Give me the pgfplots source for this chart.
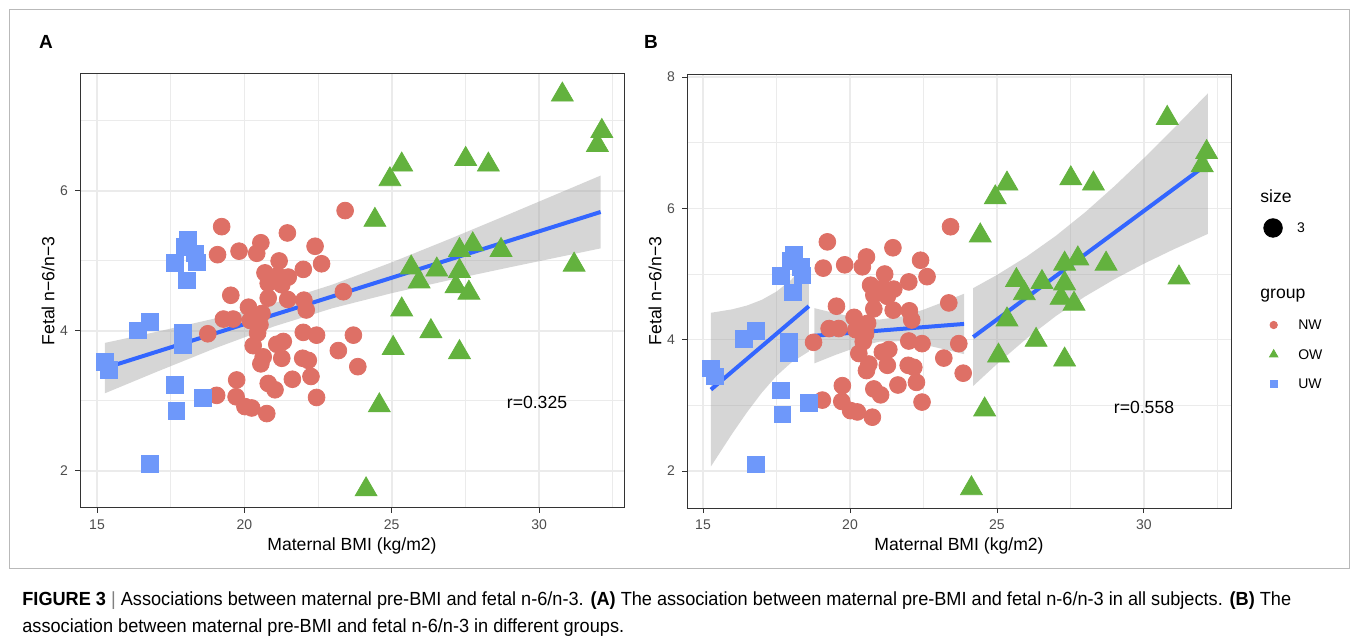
\documentclass[border=0pt]{standalone}
\usepackage{fontspec}
\setmainfont{Liberation Sans}
\newfontfamily\capfont[FakeStretch=0.955]{Liberation Sans}
\usepackage{pgfplots}
\usepackage{pgfplotstable}
\pgfplotsset{compat=1.18}

\definecolor{nwcol}{RGB}{222,112,102}
\definecolor{owcol}{RGB}{99,178,62}
\definecolor{uwcol}{RGB}{110,152,250}
\definecolor{smcol}{HTML}{3366FF}
\definecolor{grid92}{HTML}{EBEBEB}
\definecolor{g20}{HTML}{333333}
\definecolor{g30}{HTML}{4D4D4D}
\definecolor{band}{HTML}{999999}

% data (BMI, n-6/n-3)
\pgfplotstableread{
x y
23.42 5.72
19.23 5.49
21.46 5.40
20.56 5.26
22.40 5.21
19.09 5.09
19.82 5.14
20.42 5.11
21.18 5.00
22.62 4.96
22.00 4.88
20.70 4.83
21.13 4.79
21.49 4.77
20.81 4.68
21.27 4.66
20.95 4.72
19.54 4.51
20.81 4.47
21.47 4.45
22.02 4.44
23.36 4.56
20.14 4.34
22.10 4.30
19.29 4.17
19.62 4.17
20.53 4.09
20.45 3.97
18.76 3.96
22.00 3.98
22.45 3.94
23.70 3.94
20.30 3.79
21.10 3.81
21.32 3.85
23.19 3.72
20.64 3.63
21.27 3.61
21.98 3.61
22.17 3.58
23.85 3.49
20.56 3.53
19.74 3.30
21.63 3.31
22.26 3.35
20.81 3.25
21.04 3.16
19.06 3.08
19.72 3.06
22.45 3.05
20.02 2.92
20.25 2.90
20.76 2.82
20.20 4.15
20.60 4.25
}\nwdata

\pgfplotstableread{
x y
30.79 7.375
32.13 6.855
31.98 6.655
25.34 6.375
24.94 6.165
27.51 6.455
28.28 6.375
24.43 5.585
31.19 4.945
27.30 5.155
27.75 5.235
28.71 5.155
25.66 4.905
26.53 4.875
27.30 4.855
25.93 4.705
27.18 4.635
27.62 4.545
25.34 4.305
26.33 3.995
25.05 3.755
27.30 3.695
24.58 2.935
24.13 1.735
}\owdata

\pgfplotstableread{
x y
18.09 5.30
17.99 5.20
18.33 5.11
17.65 4.97
18.38 4.98
18.05 4.72
16.39 4.01
16.80 4.13
17.92 3.97
17.92 3.80
15.27 3.56
15.40 3.44
17.65 3.23
18.60 3.04
17.70 2.86
16.80 2.10
}\uwdata

\pgfplotsset{
  panel/.style={scale only axis, width=272pt, height=217pt, anchor=north west,
    xtick={15,20,25,30}, minor xtick={17.5,22.5,27.5,32.5},
    grid=both, major grid style={grid92, line width=0.8pt},
    minor grid style={grid92, line width=0.5pt},
    axis line style={g20, line width=0.5pt},
    tick align=outside, tick pos=left, major tick length=2.5pt, minor tick length=0pt,
    tick style={g20, line width=0.5pt},
    ticklabel style={font=\fontsize{7}{8}\selectfont, text=g30},
    /pgf/number format/assume math mode=true},
  nw/.style={only marks, mark=*, mark size=4.2pt, color=nwcol, forget plot},
  ow/.style={only marks, mark=triangle*, mark size=6.3pt, color=owcol, forget plot},
  uw/.style={only marks, mark=square*, mark size=4.15pt, color=uwcol, forget plot},
  rib/.style={draw=none, fill=band, fill opacity=0.4, forget plot},
  fit/.style={smcol, line width=2pt, no marks, forget plot},
  legmark/.style={legend image code/.code={\draw[##1] plot coordinates {(0pt,0pt)};}},
  legsty/.style={legend style={draw=none, fill=none, inner sep=0pt, outer sep=0pt,
    font=\fontsize{7}{8}\selectfont, nodes={inner sep=0pt, text height=5pt, text depth=0pt}},
    legend cell align=left}
}

\begin{document}
\begin{tikzpicture}
\path[use as bounding box] (0,0) rectangle (679pt,-321pt);
\draw[gray!55, line width=0.5pt] (4.5pt,-5pt) rectangle (674.5pt,-284pt);

% ---------- panel A
\begin{axis}[panel, at={(40pt,-37pt)},
  xmin=14.423, xmax=32.883, ymin=1.471, ymax=7.671,
  ytick={2,4,6}, minor ytick={3,5,7},
  legsty, legend style={at={(axis description cs:2.176,0.6452)}, anchor=west, column sep=7.35pt}]
\addlegendimage{legmark, mark=*, mark size=4.65pt, black}
\addlegendentry{3}
\addplot[nw] table {\nwdata};
\addplot[ow] table {\owdata};
\addplot[uw] table {\uwdata};
\addplot[rib] coordinates {(15.27,3.83) (17,3.986) (19,4.178) (21,4.396) (23,4.664) (25,4.980) (27,5.320) (29,5.671) (31,6.026) (32.09,6.22)
  (32.09,5.18) (31,5.084) (29,4.909) (27,4.730) (25,4.540) (23,4.326) (21,4.064) (19,3.752) (17,3.412) (15.27,3.11)} -- cycle;
\addplot[fit] coordinates {(15.27,3.47) (32.09,5.70)};
\end{axis}

% ---------- panel B
\begin{axis}[panel, at={(343.5pt,-37pt)},
  xmin=14.456, xmax=32.96, ymin=1.437, ymax=8.046,
  ytick={2,4,6,8}, minor ytick={3,5,7},
  legsty, legend style={at={(axis description cs:1.0708,0.4332)}, anchor=north west,
    column sep=10.25pt, row sep=9.75pt}]
\addlegendimage{legmark, mark=*, mark size=1.85pt, nwcol}
\addlegendentry{NW}
\addlegendimage{legmark, mark=triangle*, mark size=2.4pt, owcol}
\addlegendentry{OW}
\addlegendimage{legmark, mark=square*, mark size=1.67pt, uwcol}
\addlegendentry{UW}
\addplot[nw] table {\nwdata};
\addplot[ow] table {\owdata};
\addplot[uw] table {\uwdata};
\addplot[rib] coordinates {(15.27,4.41) (16,4.463) (16.5,4.521) (17,4.607) (17.5,4.733) (18,4.911) (18.6,5.20)
  (18.6,3.82) (18,3.651) (17.5,3.449) (17,3.193) (16.5,2.897) (16,2.573) (15.27,2.07)} -- cycle;
\addplot[fit] coordinates {(15.27,3.24) (18.6,4.51)};
\addplot[rib] coordinates {(18.79,4.48) (19.5,4.403) (20.25,4.336) (21,4.306) (21.75,4.352) (22.5,4.457) (23.25,4.586) (23.88,4.70)
  (23.88,3.78) (23.25,3.850) (22.5,3.925) (21.75,3.978) (21,3.970) (20.25,3.888) (19.5,3.767) (18.79,3.64)} -- cycle;
\addplot[fit] coordinates {(18.79,4.06) (23.88,4.24)};
\addplot[rib] coordinates {(24.19,4.785) (25,4.986) (26,5.263) (27,5.581) (28,5.941) (29,6.340) (30,6.766) (31,7.212) (32.17,7.75)
  (32.17,5.61) (31,5.374) (30,5.158) (29,4.922) (28,4.659) (27,4.359) (26,4.015) (25,3.630) (24.19,3.295)} -- cycle;
\addplot[fit] coordinates {(24.19,4.04) (32.17,6.68)};
\end{axis}

% ---------- text
\node[font=\bfseries\fontsize{9.5}{11}\selectfont] at (23pt,-21pt) {A};
\node[font=\bfseries\fontsize{9.5}{11}\selectfont] at (325.5pt,-21pt) {B};
\node[font=\fontsize{8.8}{10}\selectfont] at (176pt,-273pt) {Maternal BMI (kg/m2)};
\node[font=\fontsize{8.8}{10}\selectfont] at (479.5pt,-273pt) {Maternal BMI (kg/m2)};
\node[font=\fontsize{8.8}{10}\selectfont, rotate=90] at (24pt,-145.5pt) {Fetal n−6/n−3};
\node[font=\fontsize{8.8}{10}\selectfont, rotate=90] at (327.5pt,-145.5pt) {Fetal n−6/n−3};
\node[font=\fontsize{8.8}{10}\selectfont] at (268.5pt,-201pt) {r=0.325};
\node[font=\fontsize{8.8}{10}\selectfont] at (572pt,-203.5pt) {r=0.558};
\node[font=\fontsize{8.8}{10}\selectfont, anchor=base west, inner sep=0pt] at (630pt,-101pt) {size};
\node[font=\fontsize{8.8}{10}\selectfont, anchor=base west, inner sep=0pt] at (630pt,-149.2pt) {group};
\node[font=\capfont\fontsize{9.5}{11}\selectfont, anchor=base west, inner sep=0pt] at (11pt,-302.5pt)
  {\textbf{FIGURE 3} {\color{gray}|} Associations between maternal pre-BMI and fetal n-6/n-3. \textbf{(A)} The association between maternal pre-BMI and fetal n-6/n-3 in all subjects. \textbf{(B)} The};
\node[font=\capfont\fontsize{9.5}{11}\selectfont, anchor=base west, inner sep=0pt] at (11pt,-316pt)
  {association between maternal pre-BMI and fetal n-6/n-3 in different groups.};
\end{tikzpicture}
\end{document}
